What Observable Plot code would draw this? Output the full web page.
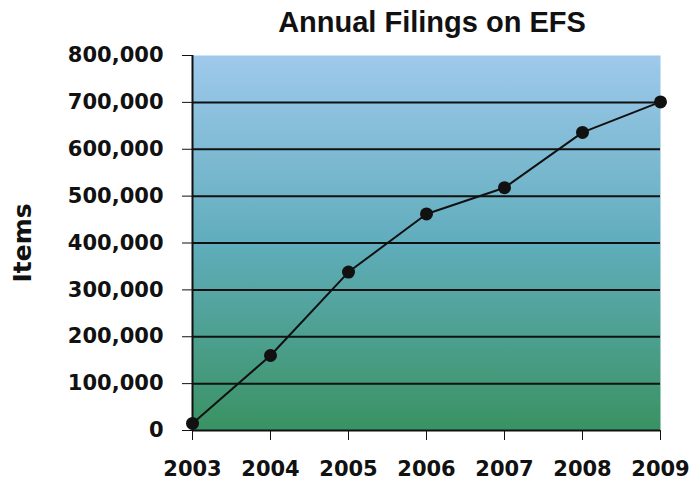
<!DOCTYPE html>
<html><head><meta charset="utf-8">
<script src="https://cdn.jsdelivr.net/npm/d3@7"></script>
<script src="https://cdn.jsdelivr.net/npm/@observablehq/plot@0.6"></script>
<style>
body{margin:0;background:#fff;}
#title{height:40px;width:690px;position:relative;font:bold 29px "Liberation Sans",Arial,sans-serif;color:#111;}
#title span{position:absolute;left:432px;top:6px;transform:translateX(-50%);white-space:nowrap;}
</style></head><body>
<div id="title"><span>Annual Filings on EFS</span></div>
<div id="chart"></div>
<script>
const years = [2003, 2004, 2005, 2006, 2007, 2008, 2009];
const filings = [15000, 160000, 338000, 462000, 518000, 636000, 701000];
const yTicks = [0, 100000, 200000, 300000, 400000, 500000, 600000, 700000, 800000];
const gridValues = [100000, 200000, 300000, 400000, 500000, 600000, 700000];
const yLabel = "Items";

const data = years.map((year, i) => ({year, items: filings[i]}));

const chart = Plot.plot({
  width: 690, height: 455,
  marginLeft: 192, marginRight: 30, marginTop: 15, marginBottom: 65,
  style: {fontFamily: "DejaVu Sans", fontWeight: "bold", fontSize: "21px", color: "#111", background: "transparent"},
  x: {domain: [2003, 2009], ticks: years, tickFormat: d => String(d), tickSize: 10, tickPadding: 21, label: null},
  y: {domain: [0, 800000], ticks: yTicks, tickFormat: d3.format(","), tickSize: 10, tickPadding: 19,
      label: yLabel, labelAnchor: "center", labelOffset: 179, labelArrow: false},
  marks: [
    Plot.frame({fill: "url(#bg)", stroke: null}),
    Plot.ruleY(gridValues, {stroke: "#111", strokeWidth: 2}),
    Plot.ruleY([0], {stroke: "#111", strokeWidth: 2}),
    Plot.ruleX([2003], {stroke: "#111", strokeWidth: 2}),
    Plot.line(data, {x: "year", y: "items", stroke: "#111", strokeWidth: 2}),
    Plot.dot(data, {x: "year", y: "items", r: 6.5, fill: "#111", stroke: null})
  ]
});

const svg = d3.select(chart);
svg.selectAll('[aria-label="y-axis label"]').style("font-size", "25px");
const grad = svg.insert("defs", ":first-child").append("linearGradient")
  .attr("id", "bg").attr("x1", 0).attr("y1", 0).attr("x2", 0).attr("y2", 1);
[[0, "#9fc9ec"], [0.5, "#60adbc"], [1, "#399262"]].forEach(([o, c]) =>
  grad.append("stop").attr("offset", o).attr("stop-color", c));

document.getElementById("chart").appendChild(chart);
</script>
</body></html>
